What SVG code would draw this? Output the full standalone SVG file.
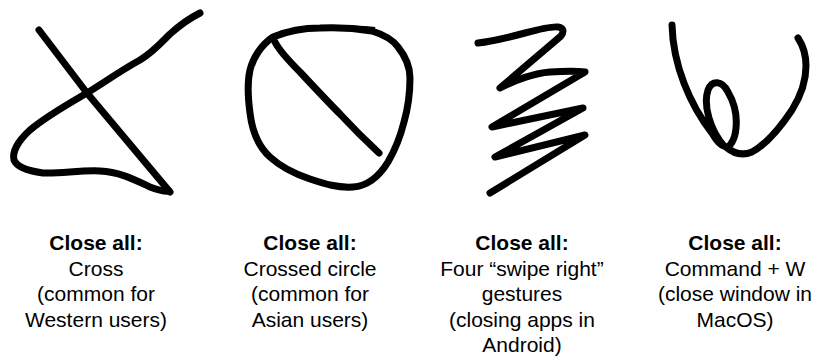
<svg xmlns="http://www.w3.org/2000/svg" width="819" height="360" viewBox="0 0 819 360">
<style>
.stroke{fill:none;stroke:#000;stroke-width:7;stroke-linecap:round;stroke-linejoin:round}
.t{font-family:"Liberation Sans",Arial,Helvetica,sans-serif;font-size:21px;fill:#000;text-anchor:middle}
.b{font-weight:bold}
</style>
<rect width="819" height="360" fill="#fff"/>
<g id="cross">
<path class="stroke" d="M39,30 L87,93 L170,192"/>
<path class="stroke" d="M200,13 C190,18 180,25 170,34 C160,44 152,53 140,60 C120,71 105,82 87,93 C70,103 48,115 30,130 C18,141 12,152 14,160 C17,167 28,171 43,173 C60,174 80,170 100,171 C120,172 135,180 150,187 C158,190 165,192 169,191"/>
<text class="t b" x="96" y="250">Close all:</text>
<text class="t" x="96" y="275.5">Cross</text>
<text class="t" x="96" y="301">(common for</text>
<text class="t" x="96" y="326.5">Western users)</text>
</g>
<g id="crossed-circle">
<path class="stroke" d="M273,37 C290,30 305,28 320,28 C340,27 360,29 372,31 C385,35 393,40 398,47 C406,57 410,66 410,78 C410,92 408,108 404,122 C400,138 395,150 388,162 C380,175 368,186 353,187 C338,188 325,184 310,179 C295,174 282,168 270,157 C258,146 252,130 250,113 C248,98 247,83 250,70 C253,58 261,45 273,37 Z"/>
<path fill="none" stroke="#000" stroke-width="4" d="M280,33 C300,27 350,26 375,29"/>
<path class="stroke" d="M275,42 C280,52 290,62 300,72 C315,88 328,102 340,114 C352,127 365,140 379,153"/>
<text class="t b" x="310" y="250">Close all:</text>
<text class="t" x="310" y="275.5">Crossed circle</text>
<text class="t" x="310" y="301">(common for</text>
<text class="t" x="310" y="326.5">Asian users)</text>
</g>
<g id="zigzag">
<path class="stroke" d="M478,43 C495,41 510,37 525,33 C540,29 552,26 558,27 C564,28 564,32 561,36 L500,88 C515,80 535,73 550,72 C565,71 578,71 585,72 L492,127 L583,108 L495,157 L585,135 L490,193"/>
<text class="t b" x="522" y="250">Close all:</text>
<text class="t" x="522" y="275.5">Four “swipe right”</text>
<text class="t" x="522" y="301">gestures</text>
<text class="t" x="522" y="326.5">(closing apps in</text>
<text class="t" x="522" y="352">Android)</text>
</g>
<g id="command-w">
<path class="stroke" d="M672,25 C673,65 690,105 712,133 C716,140 720,145 724,146 C710,130 703,105 708,90 C712,80 722,80 728,92 C735,104 737,118 736,128 C735,140 730,147 726,147 C733,153 742,156 752,152 C765,145 780,128 792,110 C802,94 806,80 806,66 C806,52 802,44 798,38"/>
<text class="t b" x="735" y="250">Close all:</text>
<text class="t" x="735" y="275.5">Command + W</text>
<text class="t" x="735" y="301">(close window in</text>
<text class="t" x="735" y="326.5">MacOS)</text>
</g>
</svg>
